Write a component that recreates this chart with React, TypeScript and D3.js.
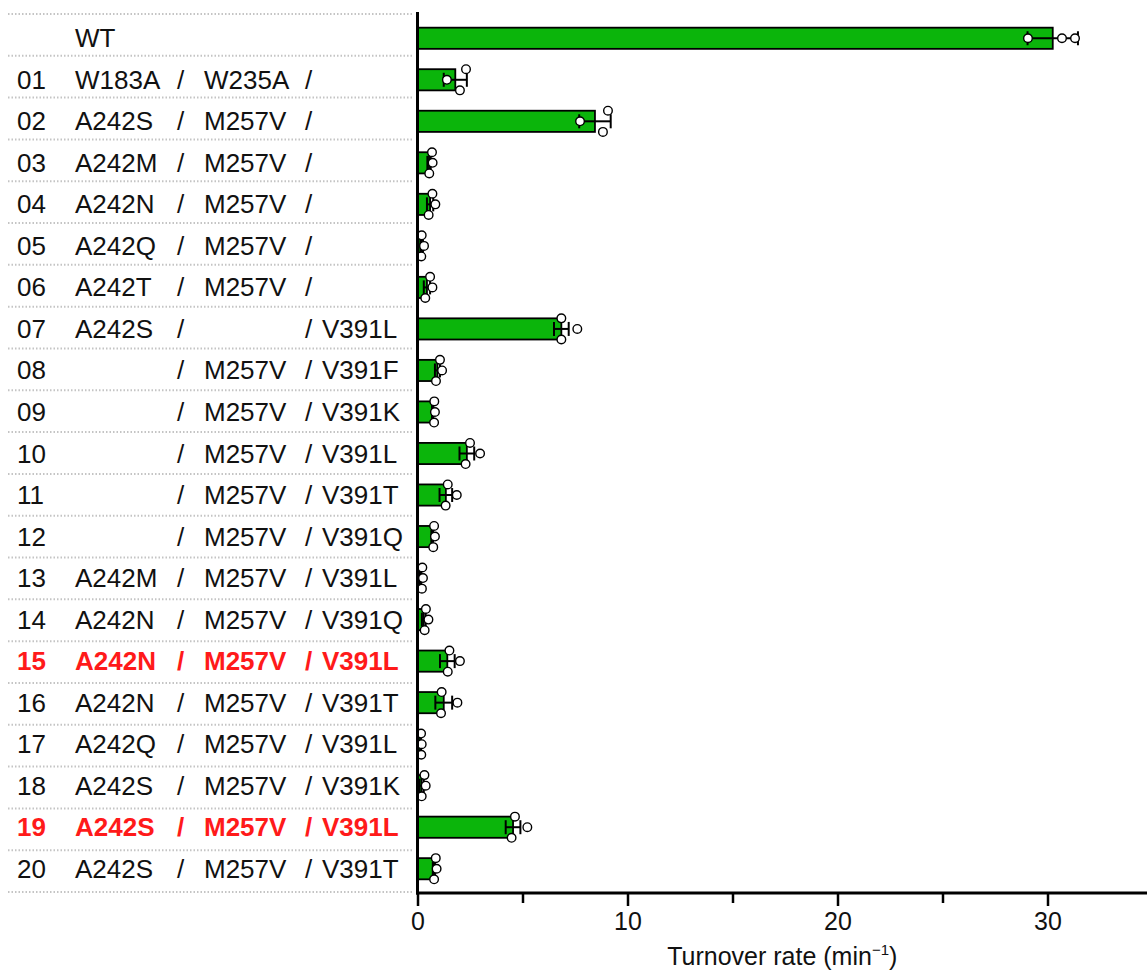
import React, { useEffect, useRef } from 'react';
import * as d3 from 'd3';

const ids = ['', '01', '02', '03', '04', '05', '06', '07', '08', '09', '10', '11', '12', '13', '14', '15', '16', '17', '18', '19', '20'];
const mut1 = ['WT', 'W183A', 'A242S', 'A242M', 'A242N', 'A242Q', 'A242T', 'A242S', '', '', '', '', '', 'A242M', 'A242N', 'A242N', 'A242N', 'A242Q', 'A242S', 'A242S', 'A242S'];
const mut2 = ['', 'W235A', 'M257V', 'M257V', 'M257V', 'M257V', 'M257V', '', 'M257V', 'M257V', 'M257V', 'M257V', 'M257V', 'M257V', 'M257V', 'M257V', 'M257V', 'M257V', 'M257V', 'M257V', 'M257V'];
const mut3 = ['', '', '', '', '', '', '', 'V391L', 'V391F', 'V391K', 'V391L', 'V391T', 'V391Q', 'V391L', 'V391Q', 'V391L', 'V391T', 'V391L', 'V391K', 'V391L', 'V391T'];
const highlighted = ['15', '19'];

// turnover rate (min-1): mean, SD and the three replicates
const means = [30.25, 1.8, 8.45, 0.55, 0.6, 0.2, 0.45, 6.85, 0.95, 0.72, 2.35, 1.35, 0.7, 0.15, 0.3, 1.42, 1.25, 0.15, 0.2, 4.55, 0.78];
const sds = [1.2, 0.55, 0.75, 0.08, 0.15, 0.06, 0.15, 0.35, 0.12, 0.03, 0.35, 0.3, 0.04, 0.03, 0.09, 0.35, 0.4, 0.02, 0.1, 0.35, 0.05];
const reps = [
  [29.07, 30.69, 31.31],
  [2.31, 1.4, 2.02],
  [9.07, 7.74, 8.83],
  [0.69, 0.72, 0.56],
  [0.71, 0.85, 0.53],
  [0.2, 0.31, 0.18],
  [0.6, 0.71, 0.37],
  [6.85, 7.61, 6.85],
  [1.07, 1.17, 0.88],
  [0.8, 0.83, 0.79],
  [2.5, 2.98, 2.29],
  [1.44, 1.87, 1.34],
  [0.79, 0.83, 0.75],
  [0.23, 0.26, 0.21],
  [0.4, 0.52, 0.34],
  [1.52, 2.02, 1.44],
  [1.15, 1.9, 1.12],
  [0.17, 0.2, 0.18],
  [0.33, 0.39, 0.2],
  [4.64, 5.23, 4.48],
  [0.87, 0.91, 0.79],
];
const majorTicks = [0, 10, 20, 30];
const minorTicks = [5, 15, 25];

const W = 1147;
const H = 973;
const font = "'Liberation Sans', Arial, Helvetica, sans-serif";

const App = () => {
  const axisRef = useRef<SVGGElement>(null);
  const rows = ids.map((d, i) => String(i));

  const x = d3.scaleLinear().domain([0, 35]).range([417.5, 1152.5]);
  const y = d3.scaleBand().domain(rows).range([17.5, 889.5]).paddingInner(0.49).paddingOuter(0.245);
  const grid = d3.scaleBand().domain(rows).range([14, 892]);
  const bw = y.bandwidth();

  useEffect(() => {
    const g = d3.select(axisRef.current);
    g.selectAll('*').remove();
    //major ticks with labels
    const major = g
      .append('g')
      .attr('transform', `translate(0,${grid.range()[1] + 1})`)
      .call(d3.axisBottom(x).tickValues(majorTicks).tickSize(13).tickPadding(6).tickFormat(d3.format('d')));
    major.select('.domain').remove();
    major.selectAll('line').attr('stroke-width', 2.5);
    major.selectAll('text').attr('font-size', 25).attr('font-family', font).attr('fill', '#111');
    //minor ticks
    const minor = g
      .append('g')
      .attr('transform', `translate(0,${grid.range()[1] + 1})`)
      .call(d3.axisBottom(x).tickValues(minorTicks).tickSize(10).tickFormat(() => ''));
    minor.select('.domain').remove();
    minor.selectAll('line').attr('stroke-width', 2.5);
  });

  // spread the replicates vertically when they overlap
  const offsets = (vals: number[]) => {
    const px = vals.map((v) => x(v));
    let clash = false;
    for (let a = 0; a < px.length; a++)
      for (let b = a + 1; b < px.length; b++) if (Math.abs(px[a] - px[b]) < 10) clash = true;
    return vals.map((v, k) => (clash ? (k - 1) * (bw / 2) : 0));
  };

  const y0 = grid.range()[1] + 1;

  return (
    <div style={{ position: 'absolute', left: 0, top: 0 }}>
      <svg width={W} height={H} style={{ display: 'block', background: '#fff' }} fontFamily={font}>
        {/* dotted separators */}
        {rows.map((r) => (
          <line key={'g' + r} x1={8} x2={414} y1={grid(r)} y2={grid(r)} stroke="#c4c4c4" strokeWidth={2} strokeDasharray="1.5,2" />
        ))}
        <line x1={8} x2={414} y1={grid.range()[1]} y2={grid.range()[1]} stroke="#c4c4c4" strokeWidth={2} strokeDasharray="1.5,2" />

        {/* row labels */}
        {rows.map((r, i) => {
          const hi = highlighted.includes(ids[i]);
          const cy = (y(r) as number) + bw / 2;
          const st = { fill: hi ? '#ff1a1a' : '#111', fontWeight: hi ? 'bold' : 'normal' } as const;
          return (
            <g key={'t' + r} fontSize={26} dominantBaseline="central" style={st}>
              <text x={17} y={cy}>{ids[i]}</text>
              <text x={75} y={cy}>{mut1[i]}</text>
              {i > 0 && <text x={177} y={cy}>/</text>}
              <text x={204} y={cy}>{mut2[i]}</text>
              {i > 0 && <text x={305} y={cy}>/</text>}
              <text x={322} y={cy}>{mut3[i]}</text>
            </g>
          );
        })}

        {/* bars */}
        {rows.map((r, i) => (
          <rect key={'b' + r} x={x(0)} y={y(r)} width={x(means[i]) - x(0)} height={bw} fill="#0bb50b" stroke="#000" strokeWidth={1.8} />
        ))}

        {/* error bars */}
        {rows.map((r, i) => {
          const cy = (y(r) as number) + bw / 2;
          const lo = x(means[i] - sds[i]);
          const hi = x(means[i] + sds[i]);
          return (
            <g key={'e' + r} stroke="#000" strokeWidth={2}>
              <line x1={lo} x2={hi} y1={cy} y2={cy} />
              <line x1={lo} x2={lo} y1={cy - 7} y2={cy + 7} />
              <line x1={hi} x2={hi} y1={cy - 7} y2={cy + 7} />
            </g>
          );
        })}

        {/* replicate points */}
        {rows.map((r, i) => {
          const cy = (y(r) as number) + bw / 2;
          const off = offsets(reps[i]);
          return reps[i].map((v, k) => (
            <circle key={'p' + r + k} cx={x(v)} cy={cy + off[k]} r={4.3} fill="#fff" stroke="#000" strokeWidth={1.4} />
          ));
        })}

        {/* axes */}
        <line x1={x(0)} x2={x(0)} y1={12} y2={y0 + 1.5} stroke="#000" strokeWidth={3} />
        <line x1={x(0) - 1.5} x2={W} y1={y0} y2={y0} stroke="#000" strokeWidth={3} />
        <g ref={axisRef} />

        <text x={(x(0) + W) / 2} y={965} textAnchor="middle" fontSize={25} fill="#111">
          Turnover rate (min
          <tspan fontSize={15} dy={-10}>−1</tspan>
          <tspan dy={10}>)</tspan>
        </text>
      </svg>
    </div>
  );
};

export default App;
